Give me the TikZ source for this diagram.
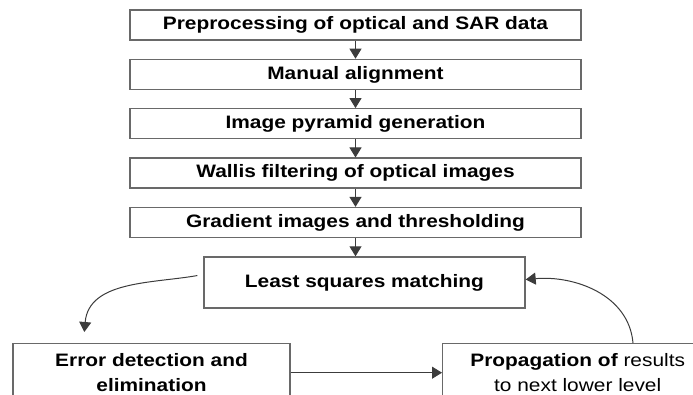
\documentclass[tikz,border=0pt]{standalone}
\usepackage{fontspec}
\setmainfont{Liberation Sans}[FakeStretch=1.16]
\usepackage{tikz}
\usetikzlibrary{positioning,arrows.meta}
\definecolor{frameGray}{RGB}{105,105,105}
\definecolor{lineGray}{RGB}{60,60,60}
\tikzset{
  fbox/.style={rectangle,draw=frameGray,line width=1.4pt,align=center,
    minimum width=#1,minimum height=30pt,inner sep=2pt,
    font=\fontsize{18}{25}\selectfont\bfseries},
  fbox/.default=451pt,
  arrow/.style={-{Triangle[length=10pt,width=12pt]},draw=lineGray,line width=1pt}
}
\begin{document}
\begin{tikzpicture}[x=1pt,y=1pt,node distance=18pt]
  \useasboundingbox (0,0) rectangle (693,394);
  \node[fbox] (prep) at (355.5,369) {Preprocessing of optical and SAR data};
  \node[fbox, below=of prep] (align) {Manual alignment};
  \node[fbox, below=of align] (pyr) {Image pyramid generation};
  \node[fbox, below=of pyr] (wallis) {Wallis filtering of optical images};
  \node[fbox, below=of wallis] (grad) {Gradient images and thresholding};
  \node[fbox=321pt, minimum height=51pt, below=of grad, xshift=9pt] (lsm)
    {Least squares matching};
  \node[fbox=277pt, minimum height=58pt, anchor=north] (err) at (151.5,51)
    {Error detection and\\elimination};
  \node[fbox=270pt, minimum height=58pt, anchor=north west] (prop) at (442,51)
    {Propagation of {\mdseries results}\\{\mdseries to next lower level}};
  \draw[arrow] (prep) -- (align);
  \draw[arrow] (align) -- (pyr);
  \draw[arrow] (pyr) -- (wallis);
  \draw[arrow] (wallis) -- (grad);
  \draw[arrow] (grad.south) -- (grad.south |- lsm.north);
  \draw[arrow, shorten <=6pt] ([yshift=8pt]lsm.west) to[out=190,in=85]
    ([xshift=72pt,yshift=11pt]err.north west);
  \draw[arrow] (err) -- (prop);
  \draw[arrow] ([xshift=191pt]prop.north west) to[out=95,in=5]
    ([yshift=3pt]lsm.east);
\end{tikzpicture}
\end{document}
